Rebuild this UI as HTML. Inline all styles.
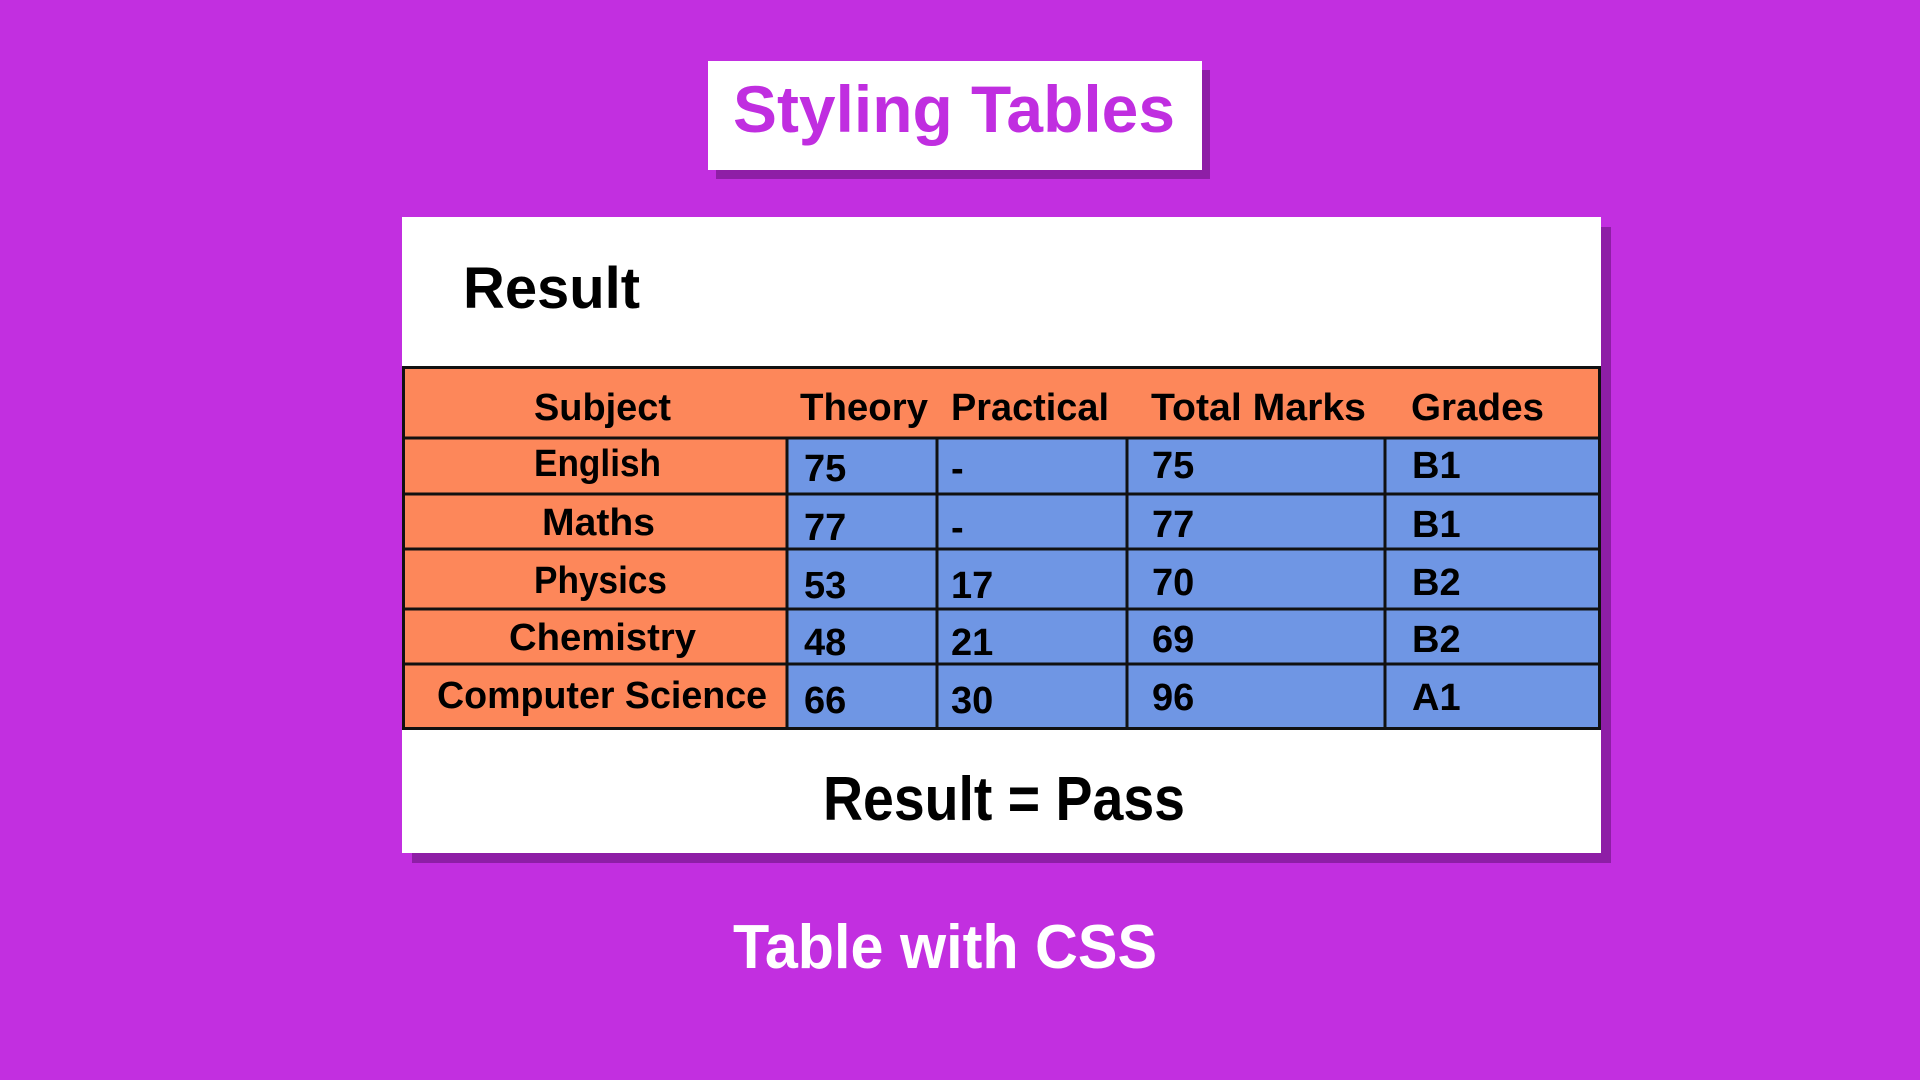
<!DOCTYPE html>
<html><head><meta charset="utf-8"><style>
html,body{margin:0;padding:0;background:#c22fe0;}
svg{display:block}
text{font-family:"Liberation Sans",sans-serif;font-weight:bold;}
</style></head><body>
<svg width="1920" height="1080" viewBox="0 0 1920 1080" xmlns="http://www.w3.org/2000/svg">
<rect width="1920" height="1080" fill="#c22fe0"/>
<!-- title -->
<rect x="716" y="70" width="494" height="109" fill="#8e1ea6"/>
<rect x="708" y="61" width="494" height="109" fill="#ffffff"/>
<text x="733" y="132" font-size="66" fill="#c02ee0" textLength="442" lengthAdjust="spacingAndGlyphs">Styling Tables</text>
<!-- card -->
<rect x="412" y="227" width="1199" height="636" fill="#8e1ea6"/>
<rect x="402" y="217" width="1199" height="636" fill="#ffffff"/>
<text x="463" y="308" font-size="58" fill="#000" textLength="177" lengthAdjust="spacingAndGlyphs">Result</text>
<!-- table -->
<rect x="402" y="366" width="1199" height="364" fill="#fd875a"/>
<rect x="787" y="438" width="814" height="292" fill="#6f96e4"/>
<g stroke="#111" stroke-width="3" fill="none">
<rect x="403.5" y="367.5" width="1196" height="361"/>
<line x1="402" y1="438" x2="1601" y2="438"/>
<line x1="402" y1="494" x2="1601" y2="494"/>
<line x1="402" y1="549" x2="1601" y2="549"/>
<line x1="402" y1="609" x2="1601" y2="609"/>
<line x1="402" y1="664" x2="1601" y2="664"/>
<line x1="787" y1="438" x2="787" y2="730"/>
<line x1="937" y1="438" x2="937" y2="730"/>
<line x1="1127" y1="438" x2="1127" y2="730"/>
<line x1="1385" y1="438" x2="1385" y2="730"/>
</g>
<g font-size="38" fill="#000">
<text x="534" y="420" textLength="137" lengthAdjust="spacingAndGlyphs">Subject</text>
<text x="800" y="420" textLength="128" lengthAdjust="spacingAndGlyphs">Theory</text>
<text x="951" y="420" textLength="158" lengthAdjust="spacingAndGlyphs">Practical</text>
<text x="1151" y="420" textLength="215" lengthAdjust="spacingAndGlyphs">Total Marks</text>
<text x="1411" y="420" textLength="133" lengthAdjust="spacingAndGlyphs">Grades</text>

<text x="534" y="476" textLength="127" lengthAdjust="spacingAndGlyphs">English</text>
<text x="542" y="535" textLength="113" lengthAdjust="spacingAndGlyphs">Maths</text>
<text x="534" y="593" textLength="133" lengthAdjust="spacingAndGlyphs">Physics</text>
<text x="509" y="650" textLength="187" lengthAdjust="spacingAndGlyphs">Chemistry</text>
<text x="437" y="708" textLength="330" lengthAdjust="spacingAndGlyphs">Computer Science</text>

<text x="804" y="481">75</text><text x="951" y="481">-</text><text x="1152" y="478">75</text><text x="1412" y="478">B1</text>
<text x="804" y="540">77</text><text x="951" y="540">-</text><text x="1152" y="537">77</text><text x="1412" y="537">B1</text>
<text x="804" y="598">53</text><text x="951" y="598">17</text><text x="1152" y="595">70</text><text x="1412" y="595">B2</text>
<text x="804" y="655">48</text><text x="951" y="655">21</text><text x="1152" y="652">69</text><text x="1412" y="652">B2</text>
<text x="804" y="713">66</text><text x="951" y="713">30</text><text x="1152" y="710">96</text><text x="1412" y="710">A1</text>
</g>
<text x="823" y="820" font-size="62" fill="#000" textLength="362" lengthAdjust="spacingAndGlyphs">Result = Pass</text>
<text x="733" y="968" font-size="62" fill="#ffffff" textLength="424" lengthAdjust="spacingAndGlyphs">Table with CSS</text>
</svg>
</body></html>
